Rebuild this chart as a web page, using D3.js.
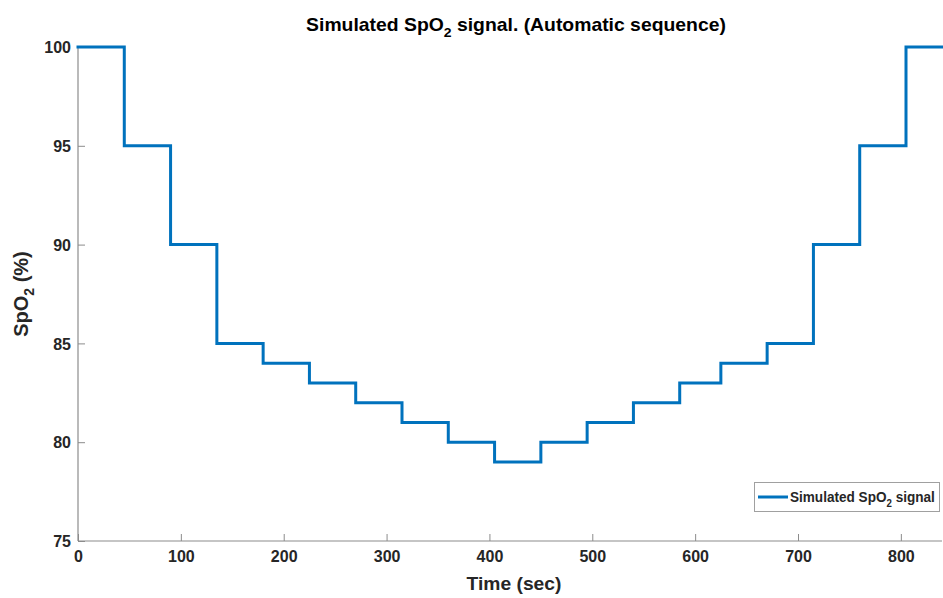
<!DOCTYPE html>
<html>
<head>
<meta charset="utf-8">
<script src="https://cdn.jsdelivr.net/npm/d3@7"></script>
<style>
  body { margin: 0; background: #fff; }
  svg { display: block; font-family: "Liberation Sans", Arial, Helvetica, sans-serif; }
</style>
</head>
<body>
<svg id="chart" width="943" height="598"></svg>
<script>
// ---- data ----
const stepTimes = [0, 45, 90, 135, 180, 225, 270, 315, 360, 405, 450, 495, 540, 585, 625, 670, 715, 760, 805, 840];
const spo2Levels = [100, 95, 90, 85, 84, 83, 82, 81, 80, 79, 80, 81, 82, 83, 84, 85, 90, 95, 100, 100];
const xTicks = [0, 100, 200, 300, 400, 500, 600, 700, 800];
const yTicks = [75, 80, 85, 90, 95, 100];
const xDomain = [0, 840];
const yDomain = [75, 100];

const lineColor = "#0072BD";
const textColor = "#262626";
const axisColor = "#8c8c8c";

const svg = d3.select("#chart");
const mLeft = 78, mRight = 942, mTop = 47, mBottom = 541;

const x = d3.scaleLinear().domain(xDomain).range([mLeft, mRight]);
const y = d3.scaleLinear().domain(yDomain).range([mBottom, mTop]);

function fitX(sel, target) {
  const node = sel.node();
  const bb = node.getBBox();
  const anchor = sel.attr("text-anchor") || "start";
  let ax = bb.x;
  if (anchor === "middle") ax = bb.x + bb.width / 2;
  else if (anchor === "end") ax = bb.x + bb.width;
  const s = target / bb.width;
  const prev = sel.attr("transform") || "";
  sel.attr("transform", `translate(${ax},0) scale(${s},1) translate(${-ax},0) ${prev}`);
}

// axes
const xAxis = d3.axisBottom(x).tickValues(xTicks).tickSize(-7).tickPadding(10).tickFormat(d3.format("d"));
const yAxis = d3.axisLeft(y).tickValues(yTicks).tickSize(-7).tickPadding(7).tickFormat(d3.format("d"));

const gx = svg.append("g").attr("transform", `translate(0,${mBottom})`).call(xAxis);
const gy = svg.append("g").attr("transform", `translate(${mLeft},0)`).call(yAxis);

[gx, gy].forEach(g => {
  g.select(".domain").attr("stroke", axisColor).attr("stroke-width", 1.2);
  g.selectAll(".tick line").attr("stroke", axisColor).attr("stroke-width", 1);
  g.selectAll(".tick text")
    .attr("fill", textColor)
    .attr("font-size", 16)
    .attr("font-weight", "bold")
    .attr("font-family", "'Liberation Sans', Arial, sans-serif");
});
gx.select(".domain").attr("d", `M${mLeft},0H${mRight}`);
gy.select(".domain").attr("d", `M0,${mBottom}V${mTop}`);
gy.selectAll(".tick text").attr("dy", "0.36em");

// step line
const pts = stepTimes.map((t, i) => [t, spo2Levels[i]]);
const line = d3.line().x(d => x(d[0])).y(d => y(d[1])).curve(d3.curveStepAfter);
svg.append("path")
  .datum(pts)
  .attr("d", line)
  .attr("fill", "none")
  .attr("stroke", lineColor)
  .attr("stroke-width", 3)
  .attr("stroke-linejoin", "miter")
  .attr("stroke-linecap", "square");

// title
const title = svg.append("text")
  .attr("x", 516).attr("y", 31)
  .attr("text-anchor", "middle")
  .attr("font-size", 18).attr("font-weight", "bold")
  .attr("fill", "#000");
title.append("tspan").text("Simulated SpO");
title.append("tspan").attr("font-size", 13).attr("dy", 6).text("2");
title.append("tspan").attr("dy", -6).text(" signal. (Automatic sequence)");
fitX(title, 420);

// x label
const xl = svg.append("text")
  .attr("x", 514).attr("y", 590)
  .attr("text-anchor", "middle")
  .attr("font-size", 18).attr("font-weight", "bold")
  .attr("fill", textColor)
  .text("Time (sec)");
fitX(xl, 95);

// y label
const yl = svg.append("text")
  .attr("transform", "translate(28,294) rotate(-90)")
  .attr("text-anchor", "middle")
  .attr("font-size", 20).attr("font-weight", "bold")
  .attr("fill", textColor);
yl.append("tspan").text("SpO");
yl.append("tspan").attr("font-size", 14).attr("dy", 6).text("2");
yl.append("tspan").attr("dy", -6).text(" (%)");

// legend
const lg = svg.append("g");
lg.append("rect")
  .attr("x", 754.5).attr("y", 482.5).attr("width", 185).attr("height", 29)
  .attr("fill", "#fff").attr("stroke", "#a0a0a0").attr("stroke-width", 1);
lg.append("line")
  .attr("x1", 758).attr("x2", 788).attr("y1", 497).attr("y2", 497)
  .attr("stroke", lineColor).attr("stroke-width", 3);
const lt = lg.append("text")
  .attr("x", 790).attr("y", 502)
  .attr("font-size", 14).attr("font-weight", "bold")
  .attr("fill", textColor);
lt.append("tspan").text("Simulated SpO");
lt.append("tspan").attr("font-size", 10).attr("dy", 5).text("2");
lt.append("tspan").attr("dy", -5).text(" signal");
fitX(lt, 145);
</script>
</body>
</html>
